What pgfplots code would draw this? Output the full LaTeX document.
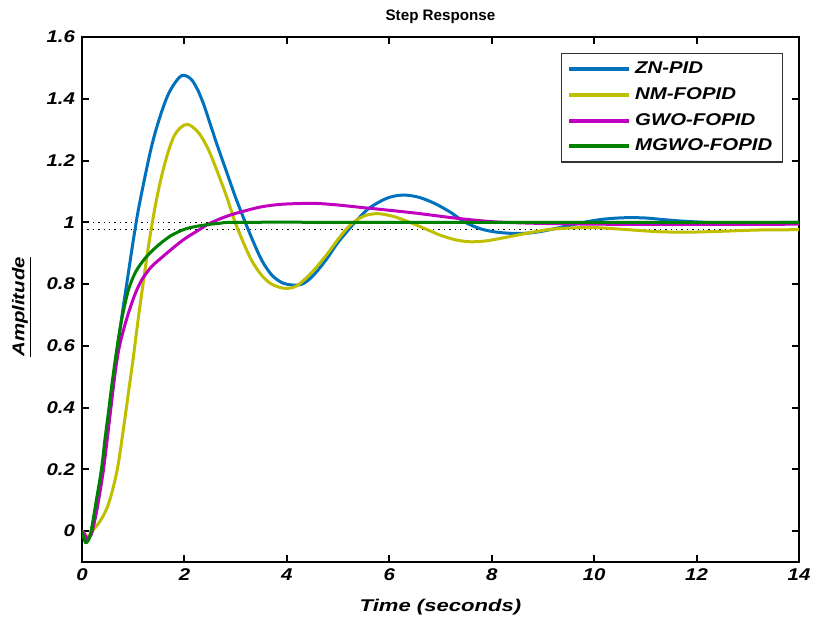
\documentclass[border=0pt]{standalone}
\usepackage{pgfplots}
\pgfplotsset{compat=1.18}
\usepackage{fontspec}
\setmainfont{Liberation Sans}
\newfontfamily\lsb[FakeStretch=1.2]{Liberation Sans}
\newfontfamily\lsx[FakeStretch=1.3]{Liberation Sans}
\definecolor{mblue}{rgb}{0,0.447,0.741}
\definecolor{myellow}{rgb}{0.75,0.75,0}
\definecolor{mmag}{rgb}{0.75,0,0.75}
\definecolor{mgreen}{rgb}{0,0.5,0}
\begin{document}
\begin{tikzpicture}
\begin{axis}[
  scale only axis, width=358.5pt, height=262.5pt,
  xmin=0, xmax=14, ymin=-0.1, ymax=1.6,
  xtick={0,2,4,6,8,10,12,14},
  ytick={0,0.2,0.4,0.6,0.8,1,1.2,1.4,1.6},
  tick align=inside, major tick length=3.5pt,
  tick style={black, line width=1pt},
  axis line style={line width=1pt},
  /pgf/number format/assume math mode=true,
  ticklabel style={font=\fontsize{8.5}{10}\lsb\bfseries\itshape},
  yticklabel style={/pgf/number format/fixed, /pgf/number format/precision=1},
  title={Step Response},
  title style={font=\fontsize{7.6}{9}\selectfont\bfseries, at={(0.5,1)}, anchor=south, yshift=-3pt},
  xlabel={Time (seconds)},
  xlabel style={font=\fontsize{8.5}{10}\lsx\bfseries\itshape, at={(axis description cs:0.5,-0.0857)}, anchor=center},
  ylabel={\underline{Amplitude}},
  ylabel style={font=\fontsize{8.5}{10}\lsb\bfseries\itshape, at={(axis description cs:-0.0837,0.486)}, anchor=center},
  legend style={font=\fontsize{8.5}{10}\lsb\bfseries\itshape, draw=black!80, line width=0.6pt,
    at={(rel axis cs:0.9775,0.9695)}, anchor=north east, row sep=1.5pt, inner xsep=3pt, inner ysep=2pt},
  legend cell align=left,
  legend image code/.code={\draw[#1, line width=2pt] (0pt,0pt) -- (30pt,0pt);},
]
\coordinate (sw) at (rel axis cs:0,0);
\coordinate (ne) at (rel axis cs:1,1);
\addplot[black, dotted, line width=0.7pt, forget plot] coordinates {(0,1)(14,1)};
\addplot[black, dotted, line width=0.7pt, forget plot] coordinates {(0,0.977)(14,0.977)};
\addplot[mblue, line width=1.5pt, smooth] coordinates {
(0,0)(0.05,-0.015)(0.1,-0.024)(0.15,-0.018)(0.2,0)(0.3,0.08)(0.4,0.19)(0.5,0.32)(0.6,0.46)(0.7,0.6)(0.8,0.72)(0.9,0.83)(1.0,0.94)(1.1,1.04)(1.22,1.14)(1.35,1.24)(1.458,1.307)(1.58,1.37)(1.686,1.415)(1.8,1.448)(1.9,1.469)(1.966,1.476)(2.05,1.473)(2.15,1.46)(2.27,1.425)(2.38,1.38)(2.5,1.32)(2.65,1.245)(2.83,1.16)(3.0,1.08)(3.2,0.995)(3.35,0.935)(3.51,0.877)(3.7,0.83)(3.9,0.805)(4.1,0.797)(4.3,0.80)(4.5,0.825)(4.75,0.875)(5.0,0.935)(5.33,1.0)(5.6,1.045)(5.9,1.074)(6.1,1.085)(6.33,1.088)(6.6,1.08)(6.9,1.06)(7.2,1.032)(7.48,1.0)(7.8,0.978)(8.1,0.968)(8.42,0.964)(8.7,0.965)(8.95,0.97)(9.3,0.982)(9.6,0.993)(10.0,1.006)(10.3,1.012)(10.64,1.015)(11.0,1.014)(11.4,1.008)(11.8,1.003)(12.3,0.999)(12.8,0.998)(13.4,0.999)(14,1.0)};
\addlegendentry{ZN-PID}
\addplot[myellow, line width=1.5pt, smooth] coordinates {
(0,0)(0.05,-0.008)(0.1,-0.018)(0.15,-0.012)(0.2,0)(0.3,0.02)(0.4,0.045)(0.5,0.08)(0.6,0.135)(0.7,0.21)(0.8,0.32)(0.9,0.44)(1.0,0.56)(1.1,0.69)(1.2,0.81)(1.3,0.925)(1.4,1.025)(1.5,1.11)(1.6,1.18)(1.706,1.24)(1.8,1.28)(1.9,1.303)(2.0,1.315)(2.06,1.317)(2.15,1.31)(2.3,1.285)(2.47,1.235)(2.64,1.165)(2.82,1.085)(2.99,1.0)(3.15,0.935)(3.31,0.877)(3.5,0.83)(3.7,0.8)(3.96,0.786)(4.2,0.795)(4.5,0.84)(4.8,0.9)(5.0,0.945)(5.23,0.99)(5.5,1.02)(5.78,1.028)(6.1,1.018)(6.4,1.0)(6.73,0.977)(7.0,0.958)(7.3,0.943)(7.58,0.937)(7.9,0.94)(8.3,0.952)(8.7,0.965)(9.14,0.977)(9.6,0.982)(10.0,0.983)(10.5,0.978)(11.2,0.97)(11.8,0.968)(12.5,0.971)(13.2,0.975)(14,0.976)};
\addlegendentry{NM-FOPID}
\addplot[mmag, line width=1.5pt, smooth] coordinates {
(0,0)(0.05,-0.01)(0.1,-0.025)(0.14,-0.02)(0.2,0.0)(0.3,0.08)(0.42,0.2)(0.55,0.38)(0.645,0.51)(0.72,0.59)(0.8,0.645)(0.905,0.705)(1.03,0.765)(1.165,0.813)(1.35,0.855)(1.55,0.885)(1.8,0.92)(2.01,0.947)(2.28,0.975)(2.5,0.997)(2.8,1.018)(3.09,1.033)(3.5,1.05)(3.87,1.058)(4.3,1.061)(4.6,1.061)(5.0,1.056)(5.4,1.049)(5.82,1.042)(6.5,1.03)(7.12,1.017)(7.6,1.008)(8.1,1.001)(8.6,0.998)(9.08,0.996)(10,0.994)(11,0.993)(12,0.993)(13,0.993)(14,0.994)};
\addlegendentry{GWO-FOPID}
\addplot[mgreen, line width=1.5pt, smooth] coordinates {
(0,0)(0.03,-0.02)(0.07,-0.037)(0.11,-0.033)(0.15,-0.02)(0.2,0.02)(0.28,0.1)(0.38,0.2)(0.45,0.3)(0.52,0.39)(0.58,0.47)(0.68,0.59)(0.775,0.685)(0.905,0.78)(1.05,0.84)(1.23,0.883)(1.45,0.92)(1.72,0.955)(2.01,0.978)(2.34,0.99)(2.7,0.997)(3.1,1.0)(6,1.0)(10,1.0)(14,1.0)};
\addlegendentry{MGWO-FOPID}
\end{axis}
\pgfresetboundingbox
\path ([xshift=-41pt,yshift=-30.5pt]sw) rectangle ([xshift=7.5pt,yshift=18.5pt]ne);
\end{tikzpicture}
\end{document}
